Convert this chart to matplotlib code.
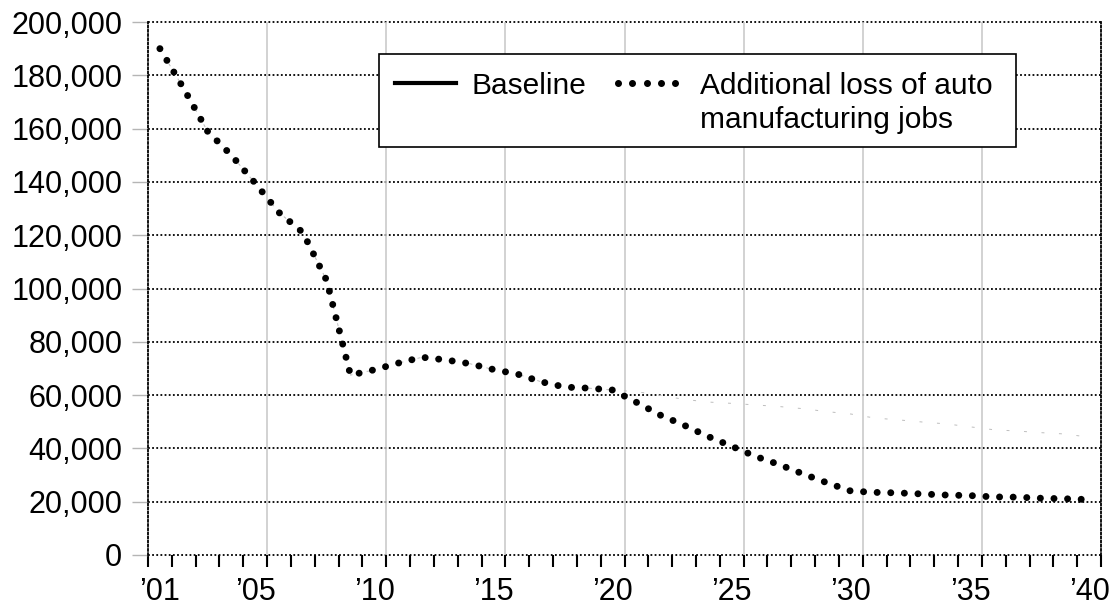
import numpy as np
import matplotlib
matplotlib.use("Agg")
import matplotlib.pyplot as plt
from matplotlib.lines import Line2D
from matplotlib.patches import Rectangle

plt.rcParams['font.family'] = ['Liberation Sans', 'DejaVu Sans']

years = list(range(2001, 2041))
baseline = [190000, 175000, 159000, 150000, 139500, 128500, 121000, 103000, 67500, 69500,
            72000, 74200, 73200, 71800, 69600, 67900, 65000, 63000, 62600, 61900,
            61300, 59900, 58400, 57400, 56900, 56300, 55700, 54900, 53800, 52900,
            51400, 50700, 49900, 49200, 48100, 47000, 46500, 45900, 45400, 44200]
job_loss = [190000, 175000, 159000, 150000, 139500, 128500, 121000, 103000, 67500, 69500,
            72000, 74200, 73200, 71800, 69600, 67900, 65000, 63000, 62600, 61900,
            57300, 52500, 48700, 44500, 40800, 37000, 33900, 30400, 27100, 24000,
            23500, 23300, 22900, 22500, 22300, 21800, 21700, 21300, 21100, 20800]
label_years = [2001, 2005, 2010, 2015, 2020, 2025, 2030, 2035, 2040]
yticks = list(range(0, 200001, 20000))

W, H = 1111, 610
fig = plt.figure(figsize=(W / 100, H / 100), dpi=100)
ax = fig.add_axes([148 / W, 1 - 555 / H, (1101 - 148) / W, (555 - 22) / H])

# categories sit between boundary ticks, like a spreadsheet category axis
x = np.array(years) - years[0] + 0.5
n = len(years)

for b in range(5, n, 5):
    ax.axvline(b, color='#c6c6c6', lw=1.1, zorder=1)

ax.plot(x, baseline, color='#bdbdbd', lw=0.7, linestyle=(0, (3, 15)), zorder=2)
ax.plot(x, job_loss, color='black', lw=5.0, linestyle=(0, (0.01, 1.95)),
        dash_capstyle='round', zorder=3)

ax.set_xlim(0, n)
ax.set_ylim(0, 200000)

ax.set_xticks([yr - years[0] + 0.5 for yr in label_years])
ax.set_xticklabels([f"\u2019{yr % 100:02d}" for yr in label_years])
ax.set_xticks(np.arange(0, n + 1), minor=True)
ax.tick_params(axis='x', which='major', length=0, pad=16, labelsize=22)
ax.tick_params(axis='x', which='minor', length=8.6, width=1.5, color='black', direction='out')

ax.set_yticks(yticks)
ax.set_yticklabels([f"{v:,}" for v in yticks])
ax.tick_params(axis='y', length=11.5, width=1, color='#b5b5b5', pad=7, labelsize=22)

ax.grid(axis='y', color='black', linestyle=(0, (1, 1.3)), linewidth=1.3)
for gl in ax.get_ygridlines():
    gl.set_clip_on(False)

for s in ['top', 'bottom']:
    ax.spines[s].set_visible(False)
for s in ['left', 'right']:
    ax.spines[s].set_linestyle((0, (1, 1.3)))
    ax.spines[s].set_linewidth(1.3)
ax.set_axisbelow(True)

# legend box drawn by hand so the handles sit on the first text line
fx = lambda px: px / W
fy = lambda py: 1 - py / H
fig.add_artist(Rectangle((fx(379), fy(147)), fx(1016) - fx(379), fy(54) - fy(147),
                         transform=fig.transFigure, facecolor='white', edgecolor='black',
                         lw=1.2, zorder=10))
fig.add_artist(Line2D([fx(395), fx(456)], [fy(83), fy(83)], transform=fig.transFigure,
                      color='black', lw=3.0, zorder=11))
fig.add_artist(Line2D(np.linspace(fx(618), fx(675), 5), [fy(83)] * 5, transform=fig.transFigure,
                      color='black', linestyle='none', marker='o', markersize=4.0, zorder=11))
fig.text(fx(471), fy(93.5), "Baseline", fontsize=21.5, va='baseline', zorder=12)
fig.text(fx(700), fy(93.5), "Additional loss of auto", fontsize=21.5, va='baseline', zorder=12)
fig.text(fx(700), fy(127.5), "manufacturing jobs", fontsize=21.5, va='baseline', zorder=12)

fig.savefig("out.png", dpi=100)
